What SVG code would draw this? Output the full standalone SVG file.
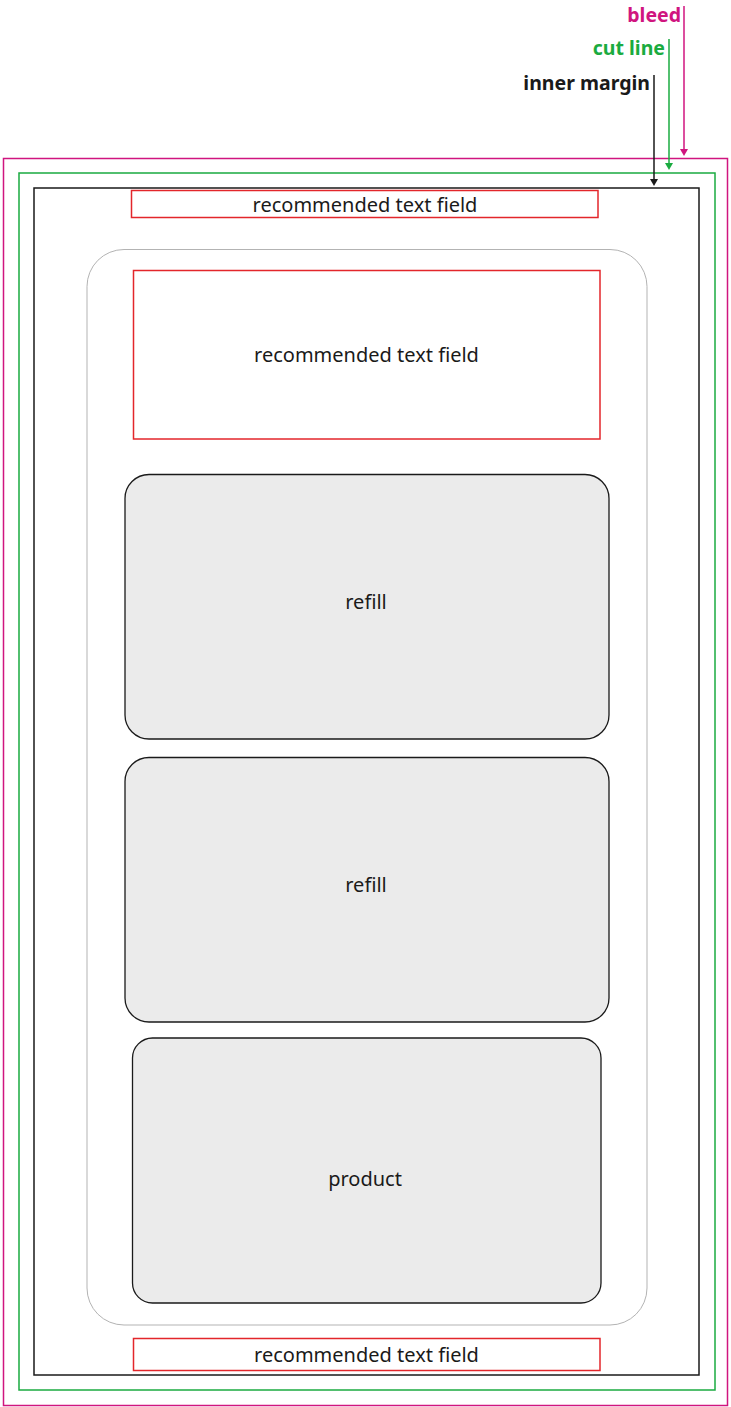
<svg xmlns="http://www.w3.org/2000/svg" width="731" height="1407" viewBox="0 0 731 1407">
<style>
.lbl{font-family:"Noto Sans","Open Sans",sans-serif;font-size:20px;fill:#1a1a1a;text-anchor:middle}
.tag{font-family:"Noto Sans","Open Sans",sans-serif;font-size:19.5px;font-weight:bold;text-anchor:end}
.field{fill:none;stroke:#e3262b;stroke-width:1.5}
.box{fill:#ebebeb;stroke:#1a1a1a;stroke-width:1.3}
</style>
<g id="bleed-frame"><rect x="3.5" y="158.5" width="724" height="1247" fill="none" stroke="#d0157f" stroke-width="1.5"/></g>
<g id="cut-frame"><rect x="19" y="173" width="696" height="1217" fill="none" stroke="#1aab40" stroke-width="1.5"/></g>
<g id="inner-frame"><rect x="34" y="188" width="665" height="1187" fill="none" stroke="#1a1a1a" stroke-width="1.5"/></g>
<g id="container"><rect x="87" y="249.5" width="560" height="1075.5" rx="37" fill="none" stroke="#b3b3b3" stroke-width="1"/></g>
<g id="field-top"><rect class="field" x="131.5" y="190.5" width="466.5" height="27"/><text class="lbl" x="365" y="212">recommended text field</text></g>
<g id="field-mid"><rect class="field" x="133.5" y="270.5" width="466.5" height="168.5"/><text class="lbl" x="366.5" y="362">recommended text field</text></g>
<g id="refill-1"><rect class="box" x="125" y="474.5" width="484" height="264.5" rx="24"/><text class="lbl" x="366" y="609">refill</text></g>
<g id="refill-2"><rect class="box" x="125" y="757.5" width="484" height="264.5" rx="24"/><text class="lbl" x="366" y="892">refill</text></g>
<g id="product"><rect class="box" x="132.5" y="1038" width="468.5" height="265" rx="20"/><text class="lbl" x="365" y="1186">product</text></g>
<g id="field-bottom"><rect class="field" x="133.5" y="1338.5" width="466.5" height="32"/><text class="lbl" x="366.5" y="1362">recommended text field</text></g>
<g id="labels">
<text class="tag" x="681" y="22" fill="#d0157f">bleed</text>
<text class="tag" x="665" y="55" fill="#1aab40">cut line</text>
<text class="tag" x="650" y="90" fill="#1a1a1a">inner margin</text>
</g>
<g id="connectors">
<line x1="684" y1="6" x2="684" y2="150" stroke="#d0157f" stroke-width="1.5"/>
<path d="M680,149 L688,149 L684,156 Z" fill="#d0157f"/>
<line x1="669" y1="39" x2="669" y2="164" stroke="#1aab40" stroke-width="1.5"/>
<path d="M665,163 L673,163 L669,170 Z" fill="#1aab40"/>
<line x1="654" y1="75" x2="654" y2="180" stroke="#1a1a1a" stroke-width="1.5"/>
<path d="M650,179 L658,179 L654,186 Z" fill="#1a1a1a"/>
</g>
</svg>
